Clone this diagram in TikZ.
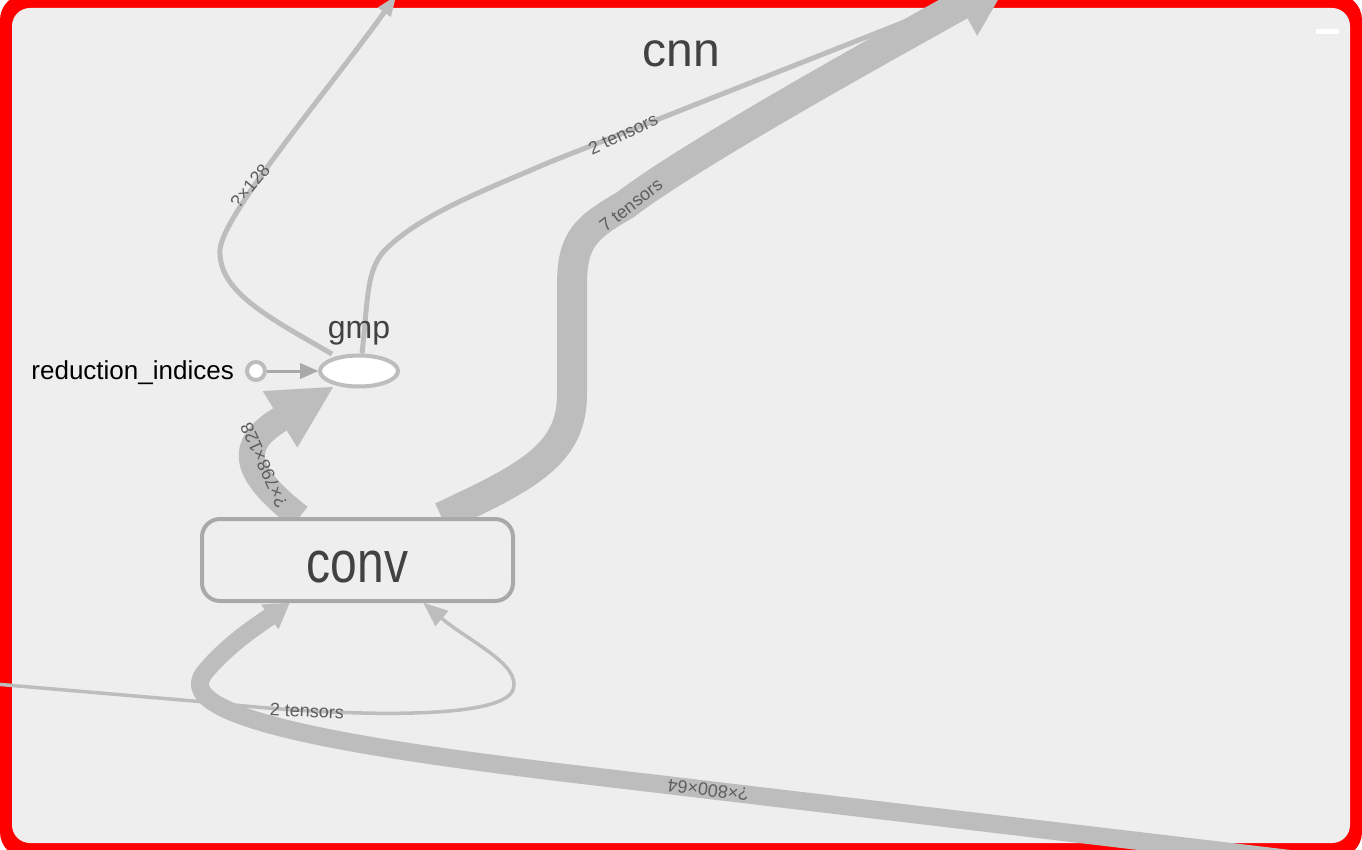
\documentclass[tikz,border=0pt]{standalone}
\usepackage{fontspec}
\setmainfont{Liberation Sans}
\usetikzlibrary{arrows.meta,calc,shapes.geometric}
\definecolor{bgc}{HTML}{EEEEEE}
\definecolor{edgec}{HTML}{BDBDBD}
\definecolor{strokec}{HTML}{A9A9A9}
\definecolor{txtc}{HTML}{424242}
\definecolor{lblc}{HTML}{5E5E5E}
\definecolor{framec}{HTML}{FF0000}
\pgfdeclarelayer{framelayer}
\pgfdeclarelayer{edgelayer}
\pgfsetlayers{framelayer,edgelayer,main}
\begin{document}
\begin{tikzpicture}[x=1pt,y=-1pt,
  band/.style={draw=edgec,line cap=butt,line join=round},
  elabel/.style={font=\fontsize{18}{22}\selectfont,text=lblc,inner sep=0pt},
  bigtip/.style={arrows={-{Triangle[length=#1,width=66pt,line width=0.01pt]}}}
]
\useasboundingbox (0,0) rectangle (1362,850);

\begin{pgfonlayer}{framelayer}
\fill[framec, rounded corners=26pt] (0,-6) rectangle (1362,858);
\fill[bgc, rounded corners=18pt] (12,8) rectangle (1350,843);
\fill[white] (1316,29) rectangle (1339,34);
\end{pgfonlayer}

% nodes
\node[draw=strokec, line width=4pt, fill=bgc, rounded corners=18pt,
      minimum width=311pt, minimum height=82pt, inner sep=0pt] (conv) at (357.5,560) {};
\node[anchor=base, inner sep=0pt, text=txtc, font=\fontsize{48}{58}\selectfont]
      (convlbl) at (357.5,582) {\scalebox{1}[1.22]{conv}};
\node[ellipse, draw=edgec, line width=4pt, fill=white, minimum width=78pt,
      minimum height=31pt, inner sep=0pt] (gmp) at (359,371) {};
\node[anchor=base, inner sep=0pt, text=txtc, font=\fontsize{32}{38}\selectfont]
      (gmplbl) at (359,338) {gmp};
\node[circle, draw=edgec, line width=4pt, fill=white, minimum size=18pt,
      inner sep=0pt] (ri) at (256,371) {};
\node[anchor=base east, inner sep=0pt, text=black, font=\fontsize{26}{31}\selectfont]
      (rilbl) at (234,379) {reduction\_indices};
\node[anchor=base, inner sep=0pt, text=txtc, font=\fontsize{48}{58}\selectfont]
      (cnn) at (681,67) {cnn};

% free ends of connectors
\coordinate (inL) at (-5,684);
\coordinate (inR) at (1400,872);
\coordinate (outA) at (396,-4);
\coordinate (outB) at (955,2);
\coordinate (outC) at (1011,-23);

\begin{pgfonlayer}{edgelayer}
% thin input into conv (2 tensors)
\draw[band, line width=3.5pt, arrows={-{Triangle[length=24pt,width=20pt,line width=0.01pt]}}]
  (inL) -- (205,702) .. controls (330,716) and (500,722) .. (513,690)
  .. controls (522,665) and (470,642) .. (441.9,618.5) -- ($(conv.south)+(66,0)$);
% thick input into conv
\draw[band, line width=18pt, arrows={-{Triangle[length=24pt,width=30pt,line width=0.01pt]}}]
  (inR) -- (650,783) .. controls (420,756) and (160,725) .. (205,672)
  .. controls (225,648) and (250,630) .. (269.9,616.8) -- ($(conv.south)+(-68,0)$);
% conv -> gmp
\draw[band, line width=26pt, bigtip=62pt]
  ($(conv.north)+(-58,0)$) .. controls (242,472) and (237.5,445.4) .. (280.1,419.3)
  -- ($(gmp.center)+(-26,16)$);
% gmp -> out (2 tensors)
\draw[band, line width=5pt]
  ($(gmp.north)+(3,0)$) .. controls (368,300) and (366,270) .. (385,250)
  .. controls (420,215) and (480,192) .. (550,162) -- (outB);
% conv -> out (7 tensors)
\draw[band, line width=30pt, arrows={-{Triangle[length=58pt,width=70pt,line width=0.01pt]}}]
  ($(conv.north)+(84,0)$) .. controls (525,478) and (572,455) .. (572,395)
  -- (572,285) .. controls (572,240) and (585,228) .. (625,205)
  .. controls (690,155) and (880,50) .. (960.3,5.1) -- (outC);
% gmp -> out (?x128)
\draw[band, line width=5pt, arrows={-{Triangle[length=20pt,width=16pt,line width=0.01pt]}}]
  ($(gmp.center)+(-27,-17)$) .. controls (270,318) and (218,292) .. (220,250)
  .. controls (222,215) and (330,88) .. (384.3,12.2) -- (outA);
% reduction_indices -> gmp
\draw[draw=strokec, line width=3pt, arrows={-{Triangle[length=18pt,width=16pt,line width=0.01pt]}}]
  (ri) -- (gmp);
\end{pgfonlayer}

% edge labels
\node[elabel, rotate=50] (lq128) at (250,186) {?×128};
\node[elabel, rotate=25] (l2t) at (623,134) {2 tensors};
\node[elabel, rotate=38] (l7t) at (631,205) {7 tensors};
\node[elabel, rotate=114] (l798) at (264,465) {?×798×128};
\node[elabel, rotate=-3] (l2b) at (307,711) {2 tensors};
\node[elabel, rotate=173] (l800) at (708,790) {?×800×64};
\end{tikzpicture}
\end{document}
